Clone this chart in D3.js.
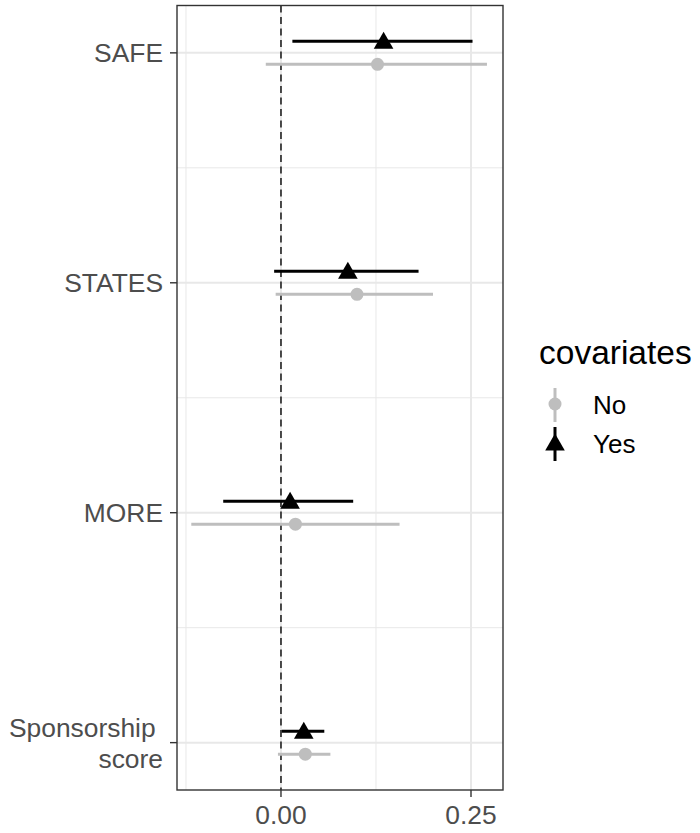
<!DOCTYPE html>
<html>
<head>
<meta charset="utf-8">
<script src="https://cdn.jsdelivr.net/npm/d3@7"></script>
<style>
  html, body { margin: 0; padding: 0; background: #fff; }
  svg text { font-family: Arial, "Liberation Sans", sans-serif; }
</style>
</head>
<body>
<svg id="chart" width="700" height="833"></svg>
<script>
// Coefficient estimates with confidence intervals, by model (with / without covariates)
const categories = ["SAFE", "STATES", "MORE", "Sponsorship score"];
const categoryLines = [["SAFE"], ["STATES"], ["MORE"], ["Sponsorship\u00A0", "score"]];
const groups = ["No", "Yes"];

const estYes  = [0.135, 0.088, 0.012, 0.030];
const lowYes  = [0.015, -0.009, -0.076, 0.001];
const highYes = [0.252, 0.181, 0.095, 0.057];

const estNo   = [0.127, 0.100, 0.019, 0.032];
const lowNo   = [-0.020, -0.007, -0.118, -0.004];
const highNo  = [0.271, 0.200, 0.156, 0.065];

const xTicks = [0, 0.25];
const xMinor = [-0.125, 0.125];
const xTickLabels = ["0.00", "0.25"];
const legendTitle = "covariates";

const series = [
  { key: "No",  est: estNo,  low: lowNo,  high: highNo,  color: "#BEBEBE", shape: "circle",   offset: 11.5 },
  { key: "Yes", est: estYes, low: lowYes, high: highYes, color: "#000000", shape: "triangle", offset: -11.5 }
];

const svg = d3.select("#chart");
const panel = { left: 177, right: 503, top: 5.5, bottom: 790 };

const x = d3.scaleLinear().domain([-0.1368, 0.2921]).range([panel.left, panel.right]);
const y = d3.scalePoint().domain(categories).range([panel.top, panel.bottom]).padding(0.206);

// Minor horizontal gridlines halfway between categories
const yMinor = d3.pairs(categories).map(([a, b]) => (y(a) + y(b)) / 2);

const grid = svg.append("g");
grid.selectAll(".vminor").data(xMinor).join("line")
  .attr("x1", d => x(d)).attr("x2", d => x(d))
  .attr("y1", panel.top).attr("y2", panel.bottom)
  .attr("stroke", "#E8E8E8").attr("stroke-width", 1);
grid.selectAll(".hminor").data(yMinor).join("line")
  .attr("x1", panel.left).attr("x2", panel.right)
  .attr("y1", d => d).attr("y2", d => d)
  .attr("stroke", "#E8E8E8").attr("stroke-width", 1);
grid.selectAll(".vmajor").data(xTicks).join("line")
  .attr("x1", d => x(d)).attr("x2", d => x(d))
  .attr("y1", panel.top).attr("y2", panel.bottom)
  .attr("stroke", "#E8E8E8").attr("stroke-width", 2);
grid.selectAll(".hmajor").data(categories).join("line")
  .attr("x1", panel.left).attr("x2", panel.right)
  .attr("y1", d => y(d)).attr("y2", d => y(d))
  .attr("stroke", "#E8E8E8").attr("stroke-width", 2);

// Reference line at zero
svg.append("line")
  .attr("x1", x(0)).attr("x2", x(0))
  .attr("y1", panel.top).attr("y2", panel.bottom)
  .attr("stroke", "#222").attr("stroke-width", 1.6)
  .attr("stroke-dasharray", "7,4.5");

function drawShape(sel, shape, cx, cy, color) {
  if (shape === "circle") {
    sel.append("circle").attr("cx", cx).attr("cy", cy).attr("r", 6.5).attr("fill", color);
  } else {
    const p = [[cx, cy - 9.5], [cx - 9.8, cy + 7.5], [cx + 9.8, cy + 7.5]];
    sel.append("path").attr("d", "M" + p.map(q => q.join(",")).join("L") + "Z").attr("fill", color);
  }
}

// Point ranges
series.forEach(s => {
  const g = svg.append("g");
  categories.forEach((c, i) => {
    const cy = y(c) + s.offset;
    g.append("line")
      .attr("x1", x(s.low[i])).attr("x2", x(s.high[i]))
      .attr("y1", cy).attr("y2", cy)
      .attr("stroke", s.color).attr("stroke-width", 3);
    drawShape(g, s.shape, x(s.est[i]), cy, s.color);
  });
});

// Panel border
svg.append("rect")
  .attr("x", panel.left).attr("y", panel.top)
  .attr("width", panel.right - panel.left).attr("height", panel.bottom - panel.top)
  .attr("fill", "none").attr("stroke", "#333333").attr("stroke-width", 1.4);

// Y axis ticks and labels
const yAxis = svg.append("g");
categories.forEach((c, i) => {
  yAxis.append("line")
    .attr("x1", panel.left - 7).attr("x2", panel.left)
    .attr("y1", y(c)).attr("y2", y(c))
    .attr("stroke", "#333333").attr("stroke-width", 1.4);
  const lines = categoryLines[i];
  const lh = 31;
  const t = yAxis.append("text")
    .attr("text-anchor", "end")
    .attr("font-size", 26.4)
    .attr("fill", "#4D4D4D");
  lines.forEach((ln, k) => {
    const base = y(c) + 9.5 - (lines.length - 1) * lh / 2 + k * lh;
    t.append("tspan").attr("x", 163).attr("y", base).text(ln);
  });
});

// X axis ticks and labels
const xAxis = svg.append("g");
xTicks.forEach((v, i) => {
  xAxis.append("line")
    .attr("x1", x(v)).attr("x2", x(v))
    .attr("y1", panel.bottom).attr("y2", panel.bottom + 7)
    .attr("stroke", "#333333").attr("stroke-width", 1.4);
  xAxis.append("text")
    .attr("x", x(v)).attr("y", 824)
    .attr("text-anchor", "middle")
    .attr("font-size", 26.4)
    .attr("fill", "#4D4D4D")
    .text(xTickLabels[i]);
});

// Legend
const legend = svg.append("g");
legend.append("text")
  .attr("x", 539).attr("y", 364)
  .attr("font-size", 33.5)
  .attr("fill", "#000")
  .text(legendTitle);
const legendY = { No: 404, Yes: 443 };
series.forEach(s => {
  const cy = legendY[s.key];
  legend.append("line")
    .attr("x1", 555).attr("x2", 555)
    .attr("y1", cy - 16).attr("y2", cy + 18)
    .attr("stroke", s.color).attr("stroke-width", 3);
  drawShape(legend, s.shape, 555, cy, s.color);
  legend.append("text")
    .attr("x", 593).attr("y", cy + 9.5)
    .attr("font-size", 26)
    .attr("fill", "#000")
    .text(s.key);
});
</script>
</body>
</html>
